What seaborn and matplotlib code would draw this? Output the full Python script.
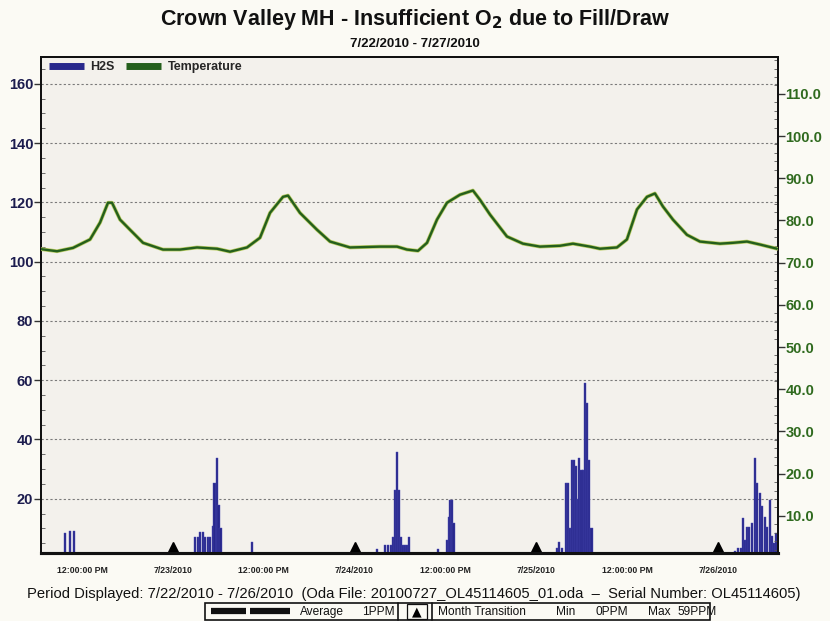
import numpy as np
import pandas as pd
import seaborn as sns
import matplotlib.pyplot as plt
import matplotlib.ticker as mtick
import matplotlib.patheffects as pe
from matplotlib.lines import Line2D
from matplotlib.patches import Rectangle

# data (hours since 7/22/2010 00:00) ------------------------------
temp_hours = [6.6, 8.70, 10.81, 13.06, 14.38, 15.43, 15.96, 17.02, 18.34, 20.06, 22.70, 24.94, 27.19,
              29.83, 31.55, 33.79, 35.51, 36.83, 38.55, 39.21, 40.79, 43.04, 44.76, 47.40, 51.36,
              53.61, 54.93, 56.38, 57.57, 58.89, 60.21, 61.93, 63.64, 64.57, 65.89, 68.13, 70.25,
              72.49, 75.13, 76.85, 79.10, 80.42, 82.66, 83.98, 85.31, 86.63, 87.68, 88.74, 90.06,
              91.91, 93.63, 96.27, 97.99, 99.84, 101.55, 103.80]
temp_f = [73.2, 72.7, 73.5, 75.5, 79.5, 84.2, 84.2, 80.2, 77.8, 74.7, 73.1, 73.1, 73.6,
          73.3, 72.6, 73.6, 75.9, 81.8, 85.6, 85.9, 81.8, 77.8, 75.0, 73.6, 73.8,
          73.8, 73.1, 72.8, 74.7, 80.2, 84.2, 86.1, 87.1, 84.9, 81.4, 76.2, 74.5,
          73.8, 74.0, 74.5, 73.8, 73.3, 73.6, 75.5, 82.6, 85.6, 86.4, 83.3, 80.2,
          76.6, 75.0, 74.5, 74.7, 75.0, 74.3, 73.3]

h2s_hours = [9.75, 10.41, 10.94,
             26.93, 27.26, 27.59, 27.92, 28.25, 28.58, 28.91, 29.24, 29.50, 29.77, 30.03, 30.29, 34.45,
             50.96, 52.02, 52.42, 52.81, 53.08, 53.34, 53.61, 53.87, 54.13, 54.40, 54.66, 54.93, 55.19,
             59.02, 60.21, 60.47, 60.67, 60.87, 61.07,
             74.70, 75.00, 75.36, 75.93, 76.19, 76.46, 76.72, 76.99, 77.25, 77.51, 77.71, 77.98,
             78.24, 78.50, 78.77, 79.03, 79.30,
             98.25, 98.65, 99.04, 99.31, 99.57, 99.84, 100.10, 100.50, 100.89, 101.16, 101.55,
             101.82, 102.21, 102.48, 102.87, 103.14, 103.40, 103.67]
h2s_ppm = [8.5, 9.2, 9.2,
           7.2, 7.2, 8.9, 8.9, 7.2, 7.2, 7.2, 10.9, 25.4, 33.9, 18.0, 10.0, 5.5,
           3.2, 4.3, 4.3, 4.3, 7.2, 23.0, 35.9, 23.0, 7.2, 4.3, 4.3, 4.3, 7.2,
           3.2, 6.0, 14.0, 19.7, 19.7, 11.9,
           3.5, 5.5, 3.5, 25.3, 25.3, 10.0, 33.2, 33.2, 30.9, 20.0, 33.7, 29.8,
           29.8, 59.1, 52.3, 33.2, 10.0,
           2.5, 3.4, 3.4, 13.6, 6.0, 10.6, 10.6, 11.9, 33.8, 25.3, 22.0,
           17.4, 14.0, 10.6, 19.7, 7.3, 5.0, 8.5]

x_ticks = [12, 24, 36, 48, 60, 72, 84, 96]
x_labels = ['12:00:00 PM', '7/23/2010', '12:00:00 PM', '7/24/2010',
            '12:00:00 PM', '7/25/2010', '12:00:00 PM', '7/26/2010']
month_marks = [24, 48, 72, 96]

temp_df = pd.DataFrame({'hours': temp_hours, 'Temperature': temp_f})
h2s_df = pd.DataFrame({'hours': h2s_hours, 'H2S': h2s_ppm})

# colours
NAVY = '#28288c'
GREEN = '#245f1c'
LEFT_TXT = '#1c1c4e'
RIGHT_TXT = '#2f6a1e'

sns.set_style('white')
plt.rcParams['font.family'] = ['Liberation Sans', 'DejaVu Sans']

fig = plt.figure(figsize=(8.3, 6.21), dpi=100, facecolor='#fbfaf4')
ax = fig.add_axes([0.0494, 0.1095, 0.8876, 0.7985])
ax.set_facecolor('#f3f1ec')

# H2S bars (left axis)
ax.bar(h2s_df.hours, h2s_df.H2S, width=0.27, color=NAVY, edgecolor='#4a4ab4',
       linewidth=0.3, zorder=3)
ax.set_xlim(6.58, 103.9)
ax.set_ylim(1.7, 169)
ax.set_yticks([20, 40, 60, 80, 100, 120, 140, 160])
ax.yaxis.set_minor_locator(mtick.MultipleLocator(5))
ax.grid(axis='y', which='major', color='#7a7a7a', linestyle=(0, (2, 2)), linewidth=0.8, zorder=1)
ax.tick_params(axis='y', which='major', direction='out', length=5, width=1, colors='#333333',
               labelcolor=LEFT_TXT, labelsize=10.5, pad=0.5)
ax.tick_params(axis='y', which='minor', direction='in', length=3, width=0.6, colors='#555555')
for lab in ax.get_yticklabels():
    lab.set_fontweight('bold')

ax.set_xticks(x_ticks)
ax.set_xticklabels(x_labels, fontsize=6.3, fontweight='bold', color='#222222')
ax.tick_params(axis='x', direction='in', length=8, width=0.6, colors='#444444',
               labelcolor='#222222', pad=9)

# month transition triangles
ax.plot(month_marks, [0.012] * len(month_marks), marker='^', markersize=7, color='black',
        linestyle='none', transform=ax.get_xaxis_transform(), clip_on=False, zorder=6)

# Temperature (right axis)
ax2 = ax.twinx()
sns.lineplot(data=temp_df, x='hours', y='Temperature', ax=ax2, color=GREEN, linewidth=1.7,
             legend=False, zorder=4,
             path_effects=[pe.Stroke(linewidth=2.7, foreground='#b9cc62'), pe.Normal()])
ax2.set_ylim(1.2, 118.7)
ax2.set_yticks(np.arange(10, 111, 10))
ax2.yaxis.set_major_formatter(mtick.FormatStrFormatter('%.1f'))
ax2.yaxis.set_minor_locator(mtick.MultipleLocator(2))
ax2.tick_params(axis='y', which='major', direction='out', length=5, width=1, colors='#333333',
                labelcolor=RIGHT_TXT, labelsize=10.5, pad=0.5)
ax2.tick_params(axis='y', which='minor', direction='in', length=3, width=0.6, colors='#555555')
for lab in ax2.get_yticklabels():
    lab.set_fontweight('bold')
ax2.set_ylabel('')
ax2.set_xlabel('')
ax.set_xlabel('')
ax.set_ylabel('')

for a in (ax, ax2):
    for side in ['left', 'right', 'top']:
        a.spines[side].set_linewidth(1.4)
        a.spines[side].set_color('#111111')
    a.spines['bottom'].set_linewidth(2.2)
    a.spines['bottom'].set_color('#111111')

# legend
handles = [Line2D([], [], color=NAVY, linewidth=5, solid_capstyle='butt'),
           Line2D([], [], color=GREEN, linewidth=5, solid_capstyle='butt')]
leg = ax2.legend(handles, ['H2S', 'Temperature'], loc='upper left', ncol=2, frameon=False,
                 handlelength=2.8, handletextpad=0.5, columnspacing=0.9,
                 bbox_to_anchor=(-0.004, 1.014), prop={'weight': 'bold', 'size': 9})

# titles
fig.text(0.5, 0.969, 'Crown Valley MH - Insufficient O$_\\mathbf{2}$ due to Fill/Draw',
         ha='center', va='center', fontsize=15.5, fontweight='bold', color='#111111')
fig.text(0.5, 0.929, '7/22/2010 - 7/27/2010', ha='center', va='center', fontsize=9.5,
         fontweight='bold', color='#111111')

# footer
fig.text(0.499, 0.0435, 'Period Displayed: 7/22/2010 - 7/26/2010  (Oda File: '
         '20100727_OL45114605_01.oda  \u2013  Serial Number: OL45114605)',
         ha='center', va='center', fontsize=10.6, color='#111111')

fig.patches.append(Rectangle((205 / 830, 0.002), 505 / 830, 0.027, transform=fig.transFigure,
                             fill=False, edgecolor='#111111', linewidth=1.2))
for x0, x1 in [(211, 246), (250, 290)]:
    fig.lines.append(Line2D([x0 / 830, x1 / 830], [0.016, 0.016], transform=fig.transFigure,
                            color='#111111', linewidth=4.5, solid_capstyle='butt'))
for xv in [398, 432]:
    fig.lines.append(Line2D([xv / 830, xv / 830], [0.002, 0.029], transform=fig.transFigure,
                            color='#111111', linewidth=1.2))
fig.patches.append(Rectangle((407 / 830, 0.004), 20 / 830, 0.023, transform=fig.transFigure,
                             fill=False, edgecolor='#111111', linewidth=0.9))
fig.text(417 / 830, 0.015, '\u25B2', ha='center', va='center', fontsize=9, color='black',
         family=['DejaVu Sans'])
for xpx, txt in [(300, 'Average'), (362, '1PPM'), (438, 'Month Transition'), (556, 'Min'),
                 (595, '0PPM'), (648, 'Max'), (677, '59PPM')]:
    fig.text(xpx / 830, 0.015, txt, ha='left', va='center', fontsize=8.6, color='#111111')

fig.savefig('out.png', dpi=100, facecolor=fig.get_facecolor())
